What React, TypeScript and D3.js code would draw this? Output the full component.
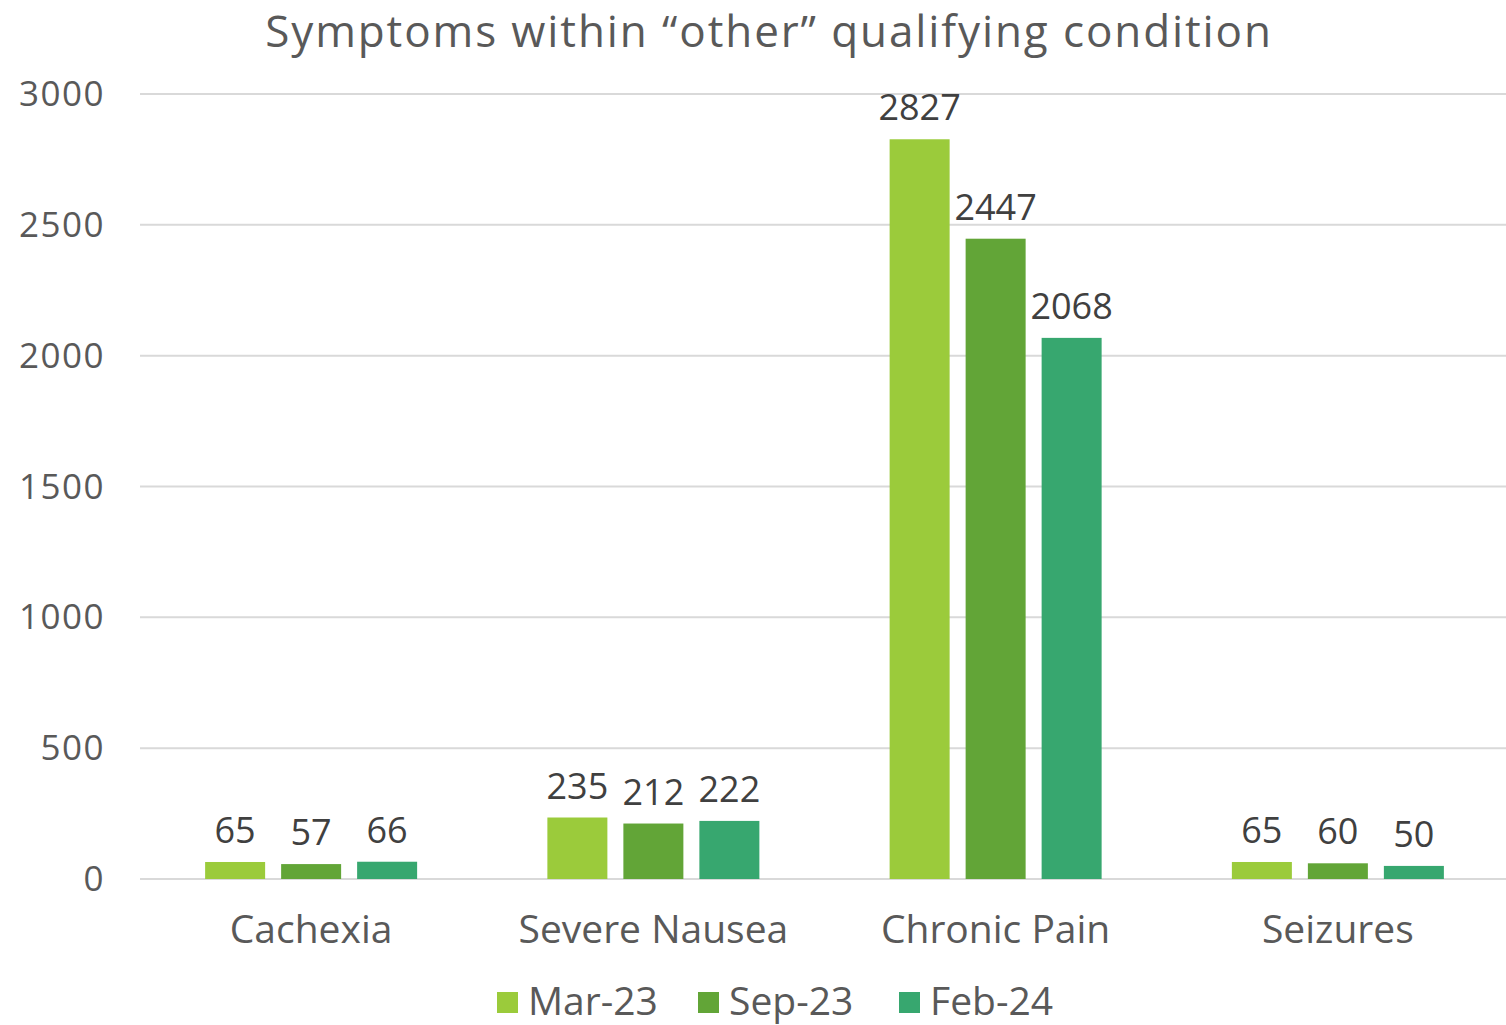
import React from "react";
import * as d3 from "d3";

const categories = ["Cachexia", "Severe Nausea", "Chronic Pain", "Seizures"];
const seriesNames = ["Mar-23", "Sep-23", "Feb-24"];
const mar23 = [65, 235, 2827, 65];
const sep23 = [57, 212, 2447, 60];
const feb24 = [66, 222, 2068, 50];
const yTicks = [0, 500, 1000, 1500, 2000, 2500, 3000];
const colors = ["#9BCB3B", "#62A537", "#37A76F"];

const W = 1506;
const H = 1025;
const FONT = "'Open Sans', Roboto, sans-serif";

export default function App() {
  const series = [mar23, sep23, feb24];
  const x = d3.scaleBand<string>().domain(categories).range([140, 1509]);
  const y = d3.scaleLinear().domain([0, 3000]).range([879, 94]);
  const barW = 60;
  const gap = 16;
  const groupW = barW * 3 + gap * 2;

  const legendItems = [
    { x: 497, label: seriesNames[0] },
    { x: 698, label: seriesNames[1] },
    { x: 899, label: seriesNames[2] },
  ];

  return (
    <svg
      width={W}
      height={H}
      style={{ position: "absolute", left: 0, top: 0, background: "#fff" }}
      fontFamily={FONT}
    >
      <text x={769} y={47} textAnchor="middle" fontSize={44} letterSpacing={1.9} fill="#595959">
        Symptoms within “other” qualifying condition
      </text>
      {yTicks.map((t) => (
        <g key={t}>
          <line x1={140} x2={1506} y1={y(t)} y2={y(t)} stroke="#d9d9d9" strokeWidth={2} />
          <text x={105} y={y(t) + 12} textAnchor="end" fontSize={35} letterSpacing={1.5} fill="#595959">
            {t}
          </text>
        </g>
      ))}
      {categories.map((c, ci) => {
        const cx = (x(c) as number) + x.bandwidth() / 2;
        const start = cx - groupW / 2;
        return (
          <g key={c}>
            {series.map((s, si) => {
              const bx = start + si * (barW + gap);
              const v = s[ci];
              return (
                <g key={si}>
                  <rect x={bx} y={y(v)} width={barW} height={y(0) - y(v)} fill={colors[si]} />
                  <text
                    x={bx + barW / 2}
                    y={y(v) - 19}
                    textAnchor="middle"
                    fontSize={36}
                    fill="#404040"
                  >
                    {v}
                  </text>
                </g>
              );
            })}
            <text x={cx} y={943} textAnchor="middle" fontSize={39} fill="#595959">
              {c}
            </text>
          </g>
        );
      })}
      {legendItems.map((it, i) => (
        <g key={i}>
          <rect x={it.x} y={992} width={21} height={21} fill={colors[i]} />
          <text x={it.x + 31} y={1015} fontSize={39} fill="#595959">
            {it.label}
          </text>
        </g>
      ))}
    </svg>
  );
}
